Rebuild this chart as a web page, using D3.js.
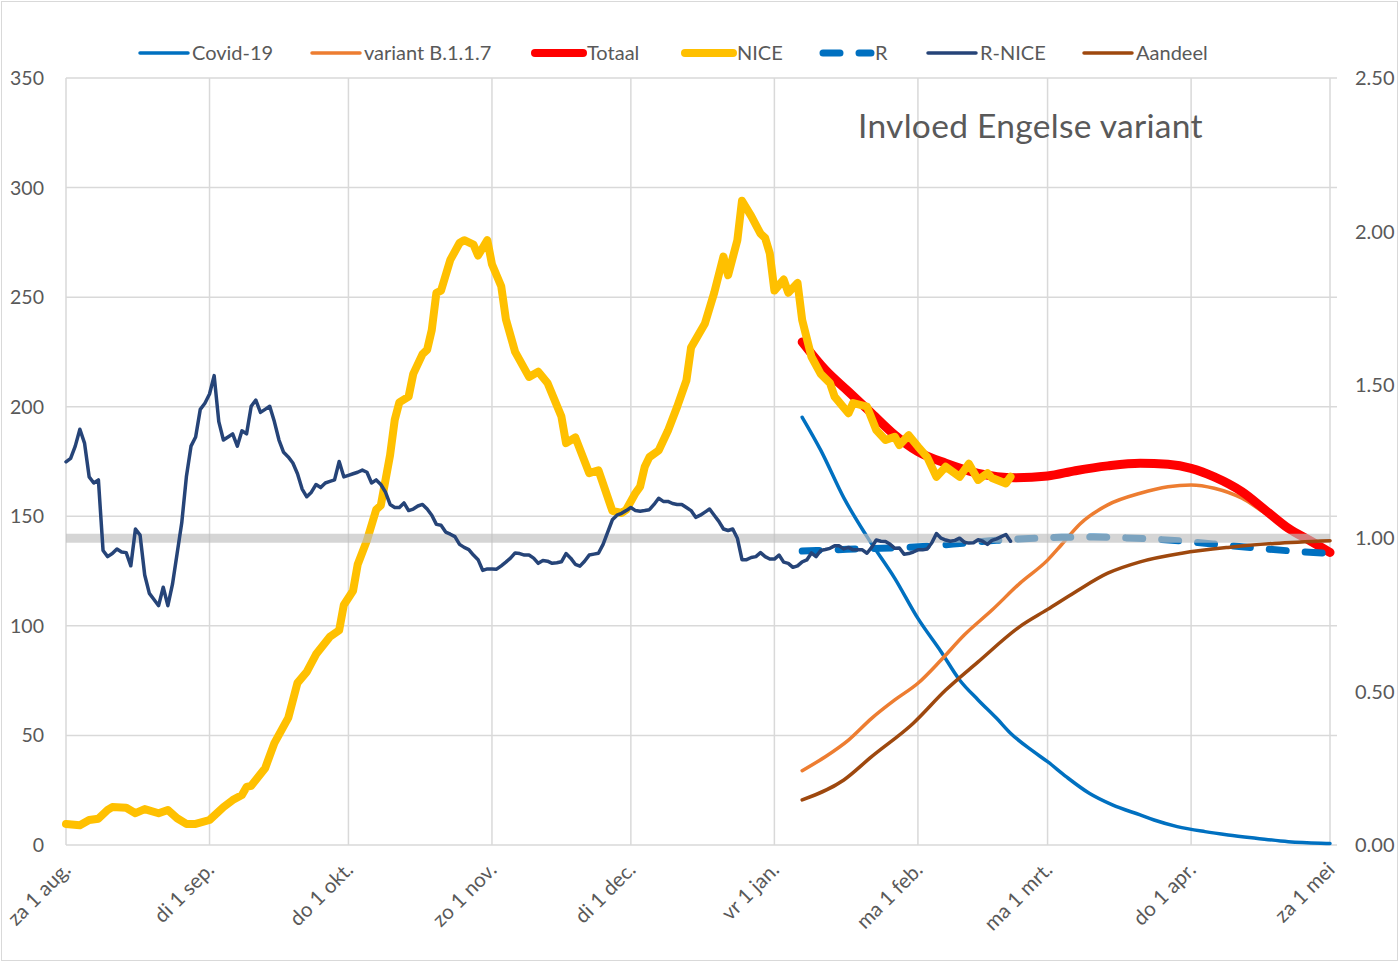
<!DOCTYPE html>
<html>
<head>
<meta charset="utf-8">
<script src="https://cdn.jsdelivr.net/npm/d3@7"></script>
<style>
  body { margin: 0; background: #fff; }
  svg text { font-family: Lato, "Open Sans", sans-serif; fill: #595959; }
</style>
</head>
<body>
<svg id="chart" width="1400" height="963"></svg>
<script>
'use strict';

// x axis: month starts and their (Dutch) labels
var monthTicks = ["2020-08-01", "2020-09-01", "2020-10-01", "2020-11-01", "2020-12-01",
  "2021-01-01", "2021-02-01", "2021-03-01", "2021-04-01", "2021-05-01"];
var monthLabels = ["za 1 aug.", "di 1 sep.", "do 1 okt.", "zo 1 nov.", "di 1 dec.",
  "vr 1 jan.", "ma 1 feb.", "ma 1 mrt.", "do 1 apr.", "za 1 mei"];

var leftTicks = [0, 50, 100, 150, 200, 250, 300, 350];
var rightTicks = [0, 0.5, 1, 1.5, 2, 2.5];

var seriesNames = ["Covid-19", "variant B.1.1.7", "Totaal", "NICE", "R", "R-NICE", "Aandeel"];
var title = "Invloed Engelse variant";

// NICE ic-opnames (left axis)
var nice = [
  ["2020-08-01", 9.6], ["2020-08-04", 9], ["2020-08-06", 11.4], ["2020-08-08", 12],
  ["2020-08-10", 16], ["2020-08-11", 17.3], ["2020-08-14", 17], ["2020-08-16", 14.5],
  ["2020-08-18", 16.4], ["2020-08-21", 14.5], ["2020-08-23", 16], ["2020-08-25", 12.2],
  ["2020-08-27", 9.6], ["2020-08-29", 9.6], ["2020-09-01", 11.4], ["2020-09-04", 17.3],
  ["2020-09-06", 20.5], ["2020-09-08", 22.8], ["2020-09-09", 26.5], ["2020-09-10", 27],
  ["2020-09-13", 35], ["2020-09-15", 46.5], ["2020-09-18", 58], ["2020-09-20", 74],
  ["2020-09-22", 79], ["2020-09-24", 87], ["2020-09-27", 95], ["2020-09-29", 98],
  ["2020-09-30", 109.5], ["2020-10-02", 116], ["2020-10-03", 128], ["2020-10-05", 139],
  ["2020-10-07", 153], ["2020-10-08", 155], ["2020-10-10", 178], ["2020-10-11", 194],
  ["2020-10-12", 202], ["2020-10-14", 204.6], ["2020-10-15", 215], ["2020-10-17", 224],
  ["2020-10-18", 226], ["2020-10-19", 235], ["2020-10-20", 252], ["2020-10-21", 253],
  ["2020-10-23", 267], ["2020-10-25", 274.7], ["2020-10-26", 276], ["2020-10-28", 274],
  ["2020-10-29", 269], ["2020-10-31", 276], ["2020-11-01", 265], ["2020-11-03", 255],
  ["2020-11-04", 240], ["2020-11-06", 225], ["2020-11-09", 213.6], ["2020-11-11", 216],
  ["2020-11-13", 210.8], ["2020-11-16", 195.5], ["2020-11-17", 183.4], ["2020-11-19", 186],
  ["2020-11-22", 169.7], ["2020-11-24", 171], ["2020-11-27", 152.5], ["2020-11-29", 151.5],
  ["2020-11-30", 153], ["2020-12-02", 160.6], ["2020-12-03", 163.5], ["2020-12-04", 172.6],
  ["2020-12-05", 177], ["2020-12-07", 180], ["2020-12-09", 189], ["2020-12-11", 200],
  ["2020-12-13", 212], ["2020-12-14", 227], ["2020-12-17", 238], ["2020-12-19", 252],
  ["2020-12-21", 268.5], ["2020-12-22", 260], ["2020-12-24", 276], ["2020-12-25", 294],
  ["2020-12-27", 287], ["2020-12-29", 279], ["2020-12-30", 277], ["2020-12-31", 270],
  ["2021-01-01", 253], ["2021-01-03", 258], ["2021-01-04", 252], ["2021-01-06", 256.5],
  ["2021-01-07", 239.6], ["2021-01-09", 222.8], ["2021-01-11", 215], ["2021-01-13", 210.8],
  ["2021-01-14", 204.6], ["2021-01-17", 197], ["2021-01-18", 201.7], ["2021-01-21", 200],
  ["2021-01-23", 189.4], ["2021-01-25", 184.8], ["2021-01-27", 186.3], ["2021-01-28", 182.5],
  ["2021-01-30", 187], ["2021-02-01", 181.8], ["2021-02-03", 177], ["2021-02-05", 168],
  ["2021-02-07", 172.6], ["2021-02-10", 168], ["2021-02-12", 174], ["2021-02-14", 166.6],
  ["2021-02-16", 169.7], ["2021-02-17", 167.5], ["2021-02-20", 165], ["2021-02-21", 168]
];

// R-NICE, one value per day from 1 aug (right axis)
var rNiceStart = "2020-08-01";
var rNice = [
  1.249, 1.26, 1.30, 1.355, 1.31, 1.20, 1.18, 1.19, 0.96, 0.94,
  0.95, 0.965, 0.955, 0.953, 0.91, 1.03, 1.01, 0.88, 0.82, 0.80,
  0.78, 0.84, 0.78, 0.85, 0.95, 1.05, 1.20, 1.30, 1.33, 1.42,
  1.44, 1.47, 1.53, 1.38, 1.32, 1.33, 1.34, 1.30, 1.35, 1.34,
  1.43, 1.45, 1.41, 1.42, 1.43, 1.38, 1.32, 1.28, 1.265, 1.245,
  1.21, 1.16, 1.135, 1.15, 1.175, 1.165, 1.18, 1.185, 1.19, 1.25,
  1.20, 1.205, 1.21, 1.215, 1.222, 1.215, 1.18, 1.19, 1.175, 1.15,
  1.11, 1.10, 1.10, 1.115, 1.09, 1.095, 1.105, 1.11, 1.095, 1.075,
  1.045, 1.042, 1.02, 1.013, 1.005, 0.98, 0.97, 0.963, 0.945, 0.93,
  0.895, 0.90, 0.90, 0.899, 0.91, 0.922, 0.935, 0.952, 0.95, 0.945,
  0.945, 0.935, 0.918, 0.927, 0.925, 0.918, 0.92, 0.923, 0.95, 0.935,
  0.915, 0.909, 0.925, 0.945, 0.948, 0.951, 0.98, 1.02, 1.06, 1.075,
  1.081, 1.09, 1.10, 1.09, 1.088, 1.09, 1.093, 1.11, 1.13, 1.12,
  1.12, 1.113, 1.11, 1.11, 1.10, 1.09, 1.068, 1.075, 1.085, 1.095,
  1.075, 1.055, 1.03, 1.025, 1.03, 1.00, 0.93, 0.93, 0.937, 0.94,
  0.953, 0.94, 0.932, 0.932, 0.945, 0.922, 0.918, 0.905, 0.91, 0.923,
  0.929, 0.952, 0.94, 0.96, 0.963, 0.967, 0.975, 0.975, 0.965, 0.97,
  0.962, 0.962, 0.962, 0.951, 0.97, 0.994, 0.99, 0.989, 0.98, 0.967,
  0.968, 0.948, 0.95, 0.955, 0.962, 0.962, 0.965, 0.985, 1.015, 1.00,
  0.994, 0.99, 0.993, 1.00, 0.987, 0.984, 0.985, 0.995, 0.99, 0.98,
  0.993, 0.998, 1.005, 1.012, 0.99
];

// model: old variant (left axis)
var covid = [
  ["2021-01-07", 195.2], ["2021-01-11", 180.2], ["2021-01-16", 158.4], ["2021-01-21", 140.7],
  ["2021-01-27", 121.7], ["2021-02-01", 103.4], ["2021-02-06", 88.2], ["2021-02-10", 75.3],
  ["2021-02-14", 66.2], ["2021-02-18", 57.8], ["2021-02-21", 51], ["2021-02-26", 42.6],
  ["2021-03-01", 38], ["2021-03-05", 31.2], ["2021-03-10", 23.6], ["2021-03-15", 18.3],
  ["2021-03-21", 13.7], ["2021-03-24", 11.4], ["2021-03-29", 8.4], ["2021-04-04", 6.1],
  ["2021-04-09", 4.6], ["2021-04-15", 3.1], ["2021-04-22", 1.5], ["2021-04-29", 0.8],
  ["2021-05-01", 0.7]
];

// model: B.1.1.7 (left axis)
var variant = [
  ["2021-01-07", 33.9], ["2021-01-12", 40.3], ["2021-01-17", 47.9], ["2021-01-22", 57.8],
  ["2021-01-27", 66.2], ["2021-02-01", 73.8], ["2021-02-06", 84.4], ["2021-02-11", 95.8],
  ["2021-02-17", 107.2], ["2021-02-23", 119.4], ["2021-03-01", 130], ["2021-03-04", 137],
  ["2021-03-08", 146.5], ["2021-03-14", 155.2], ["2021-03-21", 160.5], ["2021-03-27", 163.5],
  ["2021-04-01", 164.3], ["2021-04-06", 162.8], ["2021-04-12", 158.2], ["2021-04-17", 151.4],
  ["2021-04-22", 145.2], ["2021-04-26", 140.7], ["2021-04-29", 136.9], ["2021-05-01", 134]
];

// model: total (left axis)
var totaal = [
  ["2021-01-07", 229.5], ["2021-01-12", 216.8], ["2021-01-17", 206.9], ["2021-01-22", 197],
  ["2021-01-27", 187.1], ["2021-02-01", 179.5], ["2021-02-07", 174.2], ["2021-02-14", 169.6],
  ["2021-02-22", 167.6], ["2021-03-01", 168.4], ["2021-03-07", 170.8], ["2021-03-14", 173],
  ["2021-03-21", 174.2], ["2021-03-27", 173.7], ["2021-04-01", 171.9], ["2021-04-06", 168],
  ["2021-04-12", 161.2], ["2021-04-17", 152.9], ["2021-04-22", 144.5], ["2021-04-27", 138.5],
  ["2021-05-01", 133.5]
];

// model: R (right axis)
var rModel = [
  ["2021-01-07", 0.958], ["2021-01-14", 0.962], ["2021-01-21", 0.966], ["2021-01-28", 0.969],
  ["2021-02-04", 0.975], ["2021-02-11", 0.984], ["2021-02-18", 0.993], ["2021-02-25", 0.999],
  ["2021-03-04", 1.003], ["2021-03-11", 1.004], ["2021-03-18", 1.001], ["2021-03-25", 0.996],
  ["2021-04-01", 0.988], ["2021-04-08", 0.978], ["2021-04-15", 0.968], ["2021-04-22", 0.959],
  ["2021-05-01", 0.95]
];

// model: share of B.1.1.7 (right axis)
var aandeel = [
  ["2021-01-07", 0.147], ["2021-01-16", 0.212], ["2021-01-22", 0.288], ["2021-01-31", 0.397],
  ["2021-02-07", 0.505], ["2021-02-14", 0.597], ["2021-02-23", 0.712], ["2021-03-01", 0.768],
  ["2021-03-07", 0.825], ["2021-03-14", 0.886], ["2021-03-21", 0.923], ["2021-03-30", 0.951],
  ["2021-04-09", 0.970], ["2021-04-19", 0.983], ["2021-05-01", 0.992]
];

// R = 1 reference
var rOne = [["2020-08-01", 1], ["2021-05-01", 1]];

var parseDay = d3.utcParse("%Y-%m-%d");
var toPoints = function(pairs) {
  return pairs.map(function(p) { return { date: parseDay(p[0]), value: p[1] }; });
};

var svg = d3.select("#chart");
var margin = { left: 66, right: 1330, top: 78, bottom: 845 };

svg.append("rect")
  .attr("x", 1.5).attr("y", 1.5)
  .attr("width", 1396).attr("height", 959)
  .attr("fill", "#fff")
  .attr("stroke", "#d9d9d9");

var x = d3.scaleUtc()
  .domain([parseDay(monthTicks[0]), parseDay(monthTicks[monthTicks.length - 1])])
  .range([margin.left, margin.right]);
var yL = d3.scaleLinear().domain([0, 350]).range([margin.bottom, margin.top]);
var yR = d3.scaleLinear().domain([0, 2.5]).range([margin.bottom, margin.top]);

// grid
var grid = svg.append("g").attr("stroke", "#d9d9d9").attr("stroke-width", 1.5);
grid.selectAll(".hgrid")
  .data(leftTicks)
  .enter().append("line")
    .attr("x1", margin.left).attr("x2", margin.right + 7)
    .attr("y1", function(d) { return yL(d); })
    .attr("y2", function(d) { return yL(d); });
grid.selectAll(".vgrid")
  .data(monthTicks)
  .enter().append("line")
    .attr("x1", function(d) { return x(parseDay(d)); })
    .attr("x2", function(d) { return x(parseDay(d)); })
    .attr("y1", margin.top).attr("y2", margin.bottom);

// axes labels
svg.append("g").selectAll("text")
  .data(leftTicks)
  .enter().append("text")
    .attr("x", 44)
    .attr("y", function(d) { return yL(d); })
    .attr("dy", "0.36em")
    .attr("text-anchor", "end")
    .style("font-size", "19.5px")
    .text(function(d) { return d; });

svg.append("g").selectAll("text")
  .data(rightTicks)
  .enter().append("text")
    .attr("x", 1355)
    .attr("y", function(d) { return yR(d); })
    .attr("dy", "0.36em")
    .style("font-size", "20px")
    .text(function(d) { return d3.format(".2f")(d); });

svg.append("g").selectAll("text")
  .data(monthTicks)
  .enter().append("text")
    .attr("text-anchor", "end")
    .attr("transform", function(d) {
      return "translate(" + (x(parseDay(d)) + 6) + ",871) rotate(-45)";
    })
    .style("font-size", "20.5px")
    .text(function(d, i) { return monthLabels[i]; });

// series
var lineL = d3.line()
  .x(function(d) { return x(d.date); })
  .y(function(d) { return yL(d.value); })
  .curve(d3.curveMonotoneX);
var lineR = d3.line()
  .x(function(d) { return x(d.date); })
  .y(function(d) { return yR(d.value); })
  .curve(d3.curveMonotoneX);
var lineRaw = d3.line()
  .x(function(d) { return x(d.date); })
  .y(function(d) { return yL(d.value); });
var lineRawR = d3.line()
  .x(function(d) { return x(d.date); })
  .y(function(d) { return yR(d.value); });

var rNicePoints = rNice.map(function(v, i) {
  return { date: d3.utcDay.offset(parseDay(rNiceStart), i), value: v };
});

var plot = svg.append("g")
  .attr("fill", "none")
  .attr("stroke-linejoin", "round")
  .attr("stroke-linecap", "round");

var addPath = function(d, color, width) {
  return plot.append("path")
    .attr("d", d)
    .attr("stroke", color)
    .attr("stroke-width", width);
};

addPath(lineL(toPoints(covid)), "#0070c0", 3.5);
addPath(lineL(toPoints(variant)), "#ed7d31", 3.5);
addPath(lineL(toPoints(totaal)), "#ff0000", 9);
addPath(lineRaw(toPoints(nice)), "#ffc000", 8);
addPath(lineR(toPoints(rModel)), "#0070c0", 7)
  .attr("stroke-dasharray", "17,19");
addPath(lineRawR(toPoints(rOne)), "#bfbfbf", 9)
  .attr("stroke-linecap", "butt")
  .attr("stroke-opacity", 0.65);
addPath(lineRawR(rNicePoints), "#264478", 3.5);
addPath(lineR(toPoints(aandeel)), "#9e480e", 3.5);

// legend
var legendStyle = [
  { color: "#0070c0", width: 3.5, x: 140 },
  { color: "#ed7d31", width: 3.5, x: 312 },
  { color: "#ff0000", width: 8, x: 535 },
  { color: "#ffc000", width: 8, x: 685 },
  { color: "#0070c0", width: 7, x: 823, dash: "17,19" },
  { color: "#264478", width: 3.5, x: 928 },
  { color: "#9e480e", width: 3.5, x: 1084 }
];

var legend = svg.append("g").selectAll("g")
  .data(seriesNames)
  .enter().append("g")
    .attr("transform", function(d, i) { return "translate(" + legendStyle[i].x + ",53)"; });

legend.append("line")
  .attr("x1", 0).attr("x2", 48)
  .attr("stroke", function(d, i) { return legendStyle[i].color; })
  .attr("stroke-width", function(d, i) { return legendStyle[i].width; })
  .attr("stroke-linecap", "round")
  .attr("stroke-dasharray", function(d, i) { return legendStyle[i].dash || null; });

legend.append("text")
  .attr("x", 52)
  .attr("dy", "0.36em")
  .style("font-size", "20px")
  .text(function(d) { return d; });

svg.append("text")
  .attr("x", 858)
  .attr("y", 138)
  .style("font-size", "33.5px")
  .style("letter-spacing", "0.3px")
  .text(title);
</script>
</body>
</html>
